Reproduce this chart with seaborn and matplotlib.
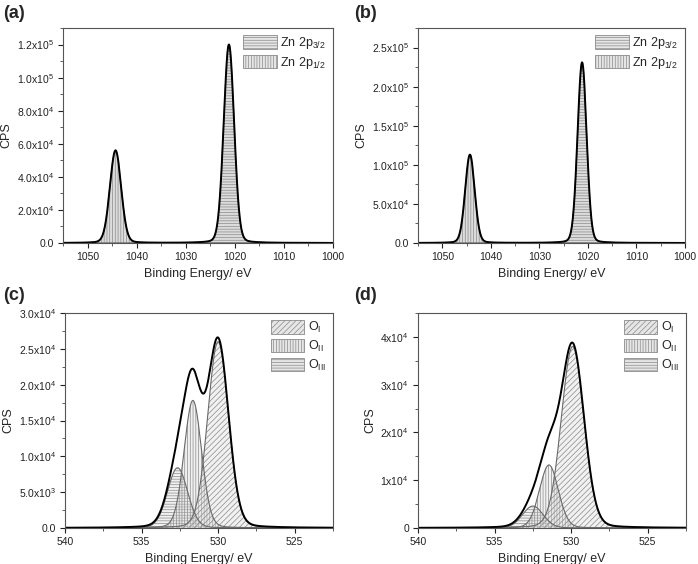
import numpy as np
import pandas as pd
import matplotlib
matplotlib.use("Agg")
import matplotlib.pyplot as plt
import seaborn as sns
from matplotlib.patches import Patch
from matplotlib.ticker import MultipleLocator, FuncFormatter

# peak parameters: centre (eV), height (CPS), FWHM (eV)
zn_names = ["Zn 2p$_{3/2}$", "Zn 2p$_{1/2}$"]
zn_hatch = ["------", "||||||"]
zn_a_center = [1021.2, 1044.3]
zn_a_height = [1.20e5, 5.6e4]
zn_a_fwhm = [2.5, 2.7]
zn_b_center = [1021.2, 1044.3]
zn_b_height = [2.31e5, 1.13e5]
zn_b_fwhm = [2.2, 2.3]

o_names = ["O$_\\mathrm{I}$", "O$_\\mathrm{II}$", "O$_\\mathrm{III}$"]
o_hatch = ["//////", "||||||", "------"]
o_c_center = [530.0, 531.65, 532.65]
o_c_height = [2.6e4, 1.78e4, 8.4e3]
o_c_fwhm = [1.6, 1.35, 1.55]
o_d_center = [529.9, 531.45, 532.5]
o_d_height = [3.8e4, 1.32e4, 4.6e3]
o_d_fwhm = [1.75, 1.45, 1.6]

GL_MIX = 0.1  # lorentzian share of the line shape

sns.set_style("ticks")
plt.rcParams["font.family"] = ["Liberation Sans", "DejaVu Sans"]
plt.rcParams["mathtext.fontset"] = "custom"
plt.rcParams["mathtext.rm"] = "Liberation Sans"
plt.rcParams["mathtext.it"] = "Liberation Sans:italic"
plt.rcParams["mathtext.bf"] = "Liberation Sans:bold"
plt.rcParams["hatch.linewidth"] = 0.5


def sci_fmt(decimals):
    def f(v, pos):
        if v == 0:
            return "0" if decimals == 0 else "0." + "0" * decimals
        e = int(np.floor(np.log10(abs(v))))
        m = v / 10 ** e
        return f"{m:.{decimals}f}x10$^{{{e}}}$"
    return FuncFormatter(f)


def peak(x, c, h, w):
    s = w / 2.3548
    g = np.exp(-(x - c) ** 2 / (2 * s ** 2))
    l = 1 / (1 + ((x - c) / (w / 2)) ** 2)
    return h * ((1 - GL_MIX) * g + GL_MIX * l)


def draw_panel(ax, centers, heights, fwhms, names, hatches, xlim, ylim,
               xmaj, xmin, ymaj, ymin, dec, face_alpha):
    x = np.linspace(min(xlim), max(xlim), 1500)
    total = np.zeros_like(x)
    comps = []
    for c, h, w in zip(centers, heights, fwhms):
        y = peak(x, c, h, w)
        comps.append(y)
        total += y
    for y, hat in reversed(list(zip(comps, hatches))):
        ax.fill_between(x, 0, y, facecolor=(0.85, 0.85, 0.85, face_alpha),
                        edgecolor="#8a8a8a", hatch=hat, linewidth=0)
        ax.plot(x, y, color="#6a6a6a", lw=0.8)
    df = pd.DataFrame({"x": x, "y": total})
    sns.lineplot(data=df, x="x", y="y", ax=ax, color="black", lw=1.4)
    ax.set_xlim(*xlim)
    ax.set_ylim(*ylim)
    ax.xaxis.set_major_locator(MultipleLocator(xmaj))
    ax.xaxis.set_minor_locator(MultipleLocator(xmin))
    ax.yaxis.set_major_locator(MultipleLocator(ymaj))
    ax.yaxis.set_minor_locator(MultipleLocator(ymin))
    ax.yaxis.set_major_formatter(sci_fmt(dec))
    ax.xaxis.set_major_formatter(FuncFormatter(lambda v, p: f"{v:.0f}"))
    ax.tick_params(which="major", direction="out", length=3.5, width=0.8,
                   labelsize=7.5, colors="#222222", pad=3)
    ax.tick_params(which="minor", direction="out", length=2, width=0.6,
                   colors="#444444")
    for sp in ax.spines.values():
        sp.set_visible(True)
        sp.set_linewidth(0.8)
        sp.set_color("#555555")
    ax.set_xlabel("Binding Energy/ eV", fontsize=9, labelpad=4)
    ax.set_ylabel("CPS", fontsize=9, labelpad=3)
    handles = [Patch(facecolor="#e6e6e6", edgecolor="#8a8a8a", hatch=h, lw=0.6)
               for h in hatches]
    ax.legend(handles, names, loc="upper right", frameon=False, fontsize=9,
              handlelength=2.7, handleheight=1.3, handletextpad=0.3,
              labelspacing=0.3, borderaxespad=0.15)


fig = plt.figure(figsize=(6.98, 5.64), dpi=100)
W, H = 698, 564
ax_a = fig.add_axes([63 / W, 1 - 243 / H, 270 / W, 215 / H])
ax_b = fig.add_axes([418 / W, 1 - 243 / H, 267 / W, 215 / H])
ax_c = fig.add_axes([65 / W, 1 - 528 / H, 268 / W, 215 / H])
ax_d = fig.add_axes([418 / W, 1 - 528 / H, 268 / W, 215 / H])

draw_panel(ax_a, zn_a_center, zn_a_height, zn_a_fwhm, zn_names, zn_hatch,
           (1055, 1000), (0, 1.3e5), 10, 5, 2e4, 1e4, 1, 0.9)
draw_panel(ax_b, zn_b_center, zn_b_height, zn_b_fwhm, zn_names, zn_hatch,
           (1055, 1000), (0, 2.75e5), 10, 5, 5e4, 2.5e4, 1, 0.9)
draw_panel(ax_c, o_c_center, o_c_height, o_c_fwhm, o_names, o_hatch,
           (540, 522.5), (0, 3.0e4), 5, 2.5, 5e3, 2.5e3, 1, 0.35)
draw_panel(ax_d, o_d_center, o_d_height, o_d_fwhm, o_names, o_hatch,
           (540, 522.5), (0, 4.5e4), 5, 2.5, 1e4, 5e3, 0, 0.35)

for lab, (px, py) in zip(["(a)", "(b)", "(c)", "(d)"],
                         [(3, 5), (354, 5), (3, 287), (354, 287)]):
    fig.text(px / W, 1 - py / H, lab, fontsize=13, fontweight="bold",
             va="top", ha="left")

fig.savefig("out.png", dpi=100)
